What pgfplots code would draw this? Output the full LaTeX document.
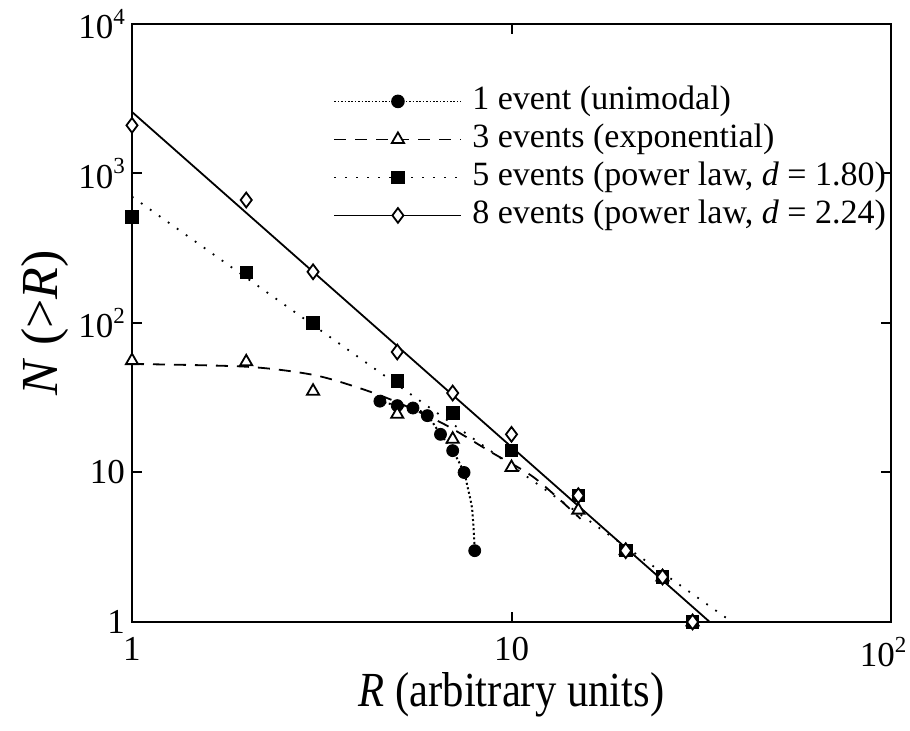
\documentclass[border=0pt]{standalone}
\usepackage{fontspec}
\setmainfont{Liberation Serif}
\newfontfamily\xlabfont{Liberation Serif}[FakeStretch=0.87]
\usepackage{pgfplots}
\pgfplotsset{compat=1.18}
\newcommand{\sps}[1]{\raisebox{0.9ex}{\fontsize{11.5}{12}\selectfont #1}}
\begin{document}
\begin{tikzpicture}
\useasboundingbox (-66pt,-54.5pt) rectangle (389pt,311pt);
\begin{axis}[
  at={(0,0)}, anchor=south west,
  scale only axis, width=379.5pt, height=299pt,
  xmode=log, ymode=log,
  xmin=1, xmax=100, ymin=1, ymax=10000,
  xtick={1,10,100}, xticklabels={1,10,\hspace*{-8pt}10\sps{2}},
  ytick={1,10,100,1000,10000},
  yticklabels={1,10,10\sps{2},10\sps{3},10\sps{4}},
  xminorticks=false, yminorticks=false,
  tick align=inside, major tick length=5pt,
  every tick/.style={black, line width=1pt},
  axis line style={line width=1.2pt},
  tick label style={font=\fontsize{17.5}{20}\selectfont},
  xticklabel style={yshift=-4pt},
  xlabel={\textit{R} (arbitrary units)},
  ylabel={\textit{N} (>\textit{R})},
  every axis x label/.style={at={(axis description cs:0.5,-0.122)}, anchor=center, font=\xlabfont\fontsize{24.5}{28}\selectfont},
  every axis y label/.style={at={(axis description cs:-0.1146,0.5)}, anchor=center, rotate=90, font=\fontsize{26}{28}\selectfont},
  legend style={at={(axis description cs:0.265,0.903)}, anchor=north west, draw=none, fill=none,
    font=\fontsize{17}{19}\selectfont, row sep=0pt, inner sep=0pt,
    nodes={inner sep=0pt, text height=13.5pt, text depth=5.5pt},
    /tikz/every odd column/.append style={column sep=5pt}},
  legend cell align=left,
  legend image code/.code={\draw[mark repeat=2,mark phase=2,#1] plot coordinates {(0pt,0pt) (31.75pt,0pt) (63.5pt,0pt)};},
  clip=true,
]
% legend images
\addlegendimage{black, line width=0.8pt, dash pattern=on 0.8pt off 0.9pt, mark=*, mark size=3pt, mark options={solid}}
\addlegendentry{1 event (unimodal)}
\addlegendimage{black, line width=0.9pt, dash pattern=on 6pt off 4.5pt, mark=triangle*, mark size=3.5pt, mark options={solid, fill=white}}
\addlegendentry{3 events (exponential)}
\addlegendimage{black, line width=0.9pt, dash pattern=on 0.9pt off 4.6pt, mark=square*, mark size=3pt, mark options={solid}}
\addlegendentry{5 events (power law, \textit{d} = 1.80)}
\addlegendimage{black, line width=0.9pt, mark=diamond*, mark size=3.7pt, mark options={solid, fill=white}}
\addlegendentry{8 events (power law, \textit{d} = 2.24)}

% fit lines
\addplot[forget plot, black, line width=0.9pt] coordinates {(1,2580) (33.3,1)};
\addplot[forget plot, black, line width=0.9pt, dash pattern=on 0.9pt off 4.6pt] coordinates {(1,700) (38.1,1)};
\addplot[forget plot, black, line width=0.9pt, dash pattern=on 6pt off 4.5pt, smooth] coordinates {
 (1,53.2) (2,51) (3,45) (4,36.5) (5,29.5) (6.68,20.9) (8.87,13.6) (11.5,9.2) (15.2,4.9)};
\addplot[forget plot, black, line width=1pt, dash pattern=on 1pt off 1.3pt, smooth] coordinates {
 (4.5,30) (5,28) (5.5,27) (6,24) (6.5,18) (7,14) (7.5,10) (7.62,8.5) (7.86,5.9) (7.94,4.3) (8,3)};

% data markers
\addplot[forget plot, only marks, mark=*, mark size=3pt, black] coordinates {
 (4.5,30) (5,28) (5.5,27) (6,24) (6.5,18) (7,14) (7.5,10) (8,3)};
\addplot[forget plot, only marks, mark=triangle*, mark size=3.5pt, black, fill=white, line width=0.9pt] coordinates {
 (1,56) (2,55) (3,35) (5,24.5) (7,16.7) (10,10.8) (15,5.6) (20,3) (25,2) (30,1)};
\addplot[forget plot, only marks, mark=square*, mark size=3.1pt, black] coordinates {
 (1,512) (2,218) (3,100) (5,41) (7,25) (10,14) (15,7) (20,3) (25,2) (30,1)};
\addplot[forget plot, only marks, mark=diamond*, mark size=3.7pt, black, fill=white, line width=0.9pt] coordinates {
 (1,2100) (2,665) (3,220) (5,64) (7,34) (10,18) (15,7) (20,3) (25,2) (30,1)};
\end{axis}
\end{tikzpicture}
\end{document}
